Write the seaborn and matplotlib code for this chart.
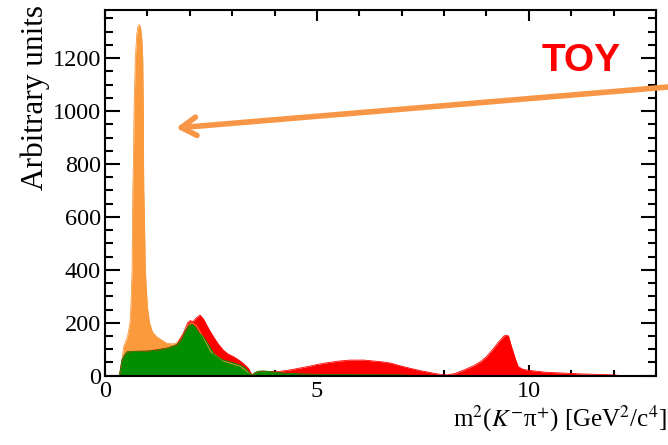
import numpy as np
import pandas as pd
import matplotlib
matplotlib.use("Agg")
import matplotlib.pyplot as plt
import seaborn as sns
from matplotlib.ticker import MultipleLocator

# K*(892) dominated component
orange_x = [0.34, 0.40, 0.44, 0.47, 0.53, 0.59, 0.61, 0.64, 0.65, 0.655, 0.67, 0.685, 0.715,
            0.75, 0.78, 0.81, 0.84, 0.87, 0.89, 0.905, 0.91, 0.915, 0.93, 0.95, 1.00, 1.05,
            1.12, 1.22, 1.46, 1.60, 1.70, 1.85, 1.95, 2.05, 2.15, 2.30, 2.50, 2.80, 3.20,
            3.40, 3.50]
orange_y = [0, 60, 110, 122, 147, 200, 260, 400, 600, 700, 800, 1000, 1198,
            1290, 1320, 1327, 1315, 1270, 1198, 1000, 800, 700, 600, 400, 260, 200,
            165, 147, 122, 120, 125, 160, 190, 200, 190, 150, 90, 55, 35,
            10, 0]

# Full toy model
red_x = [0.34, 0.40, 0.46, 0.52, 0.70, 1.00, 1.50, 1.70, 1.85, 1.95, 2.01, 2.08, 2.15, 2.24,
         2.32, 2.40, 2.48, 2.56, 2.67, 2.79, 2.90, 3.03, 3.15, 3.22, 3.32, 3.39, 3.45, 3.48,
         3.55, 3.70, 3.90, 4.10, 4.37, 4.70, 5.16, 5.50, 5.79, 6.10, 6.50, 6.73, 6.97,
         7.20, 7.44, 7.70, 7.91, 8.07, 8.25, 8.46, 8.70, 8.86, 9.00, 9.17, 9.30, 9.41,
         9.47, 9.52, 9.58, 9.64, 9.70, 9.75, 9.85, 9.96, 10.4, 11.2, 12.0, 12.2]
red_y = [0, 59, 78, 90, 92, 93, 105, 118, 160, 200, 208, 205, 218, 229,
         215, 191, 168, 147, 120, 97, 82, 72, 60, 52, 38, 27, 8, 2,
         12, 17, 16, 16, 22, 32, 47, 55, 59, 59, 53, 48, 37,
         28, 19, 11, 5, 3, 8, 21, 38, 53, 72, 104, 130, 150,
         153, 150, 115, 85, 55, 34, 25, 21, 13, 7, 3, 0]

# Remaining resonant component
green_x = [0.34, 0.40, 0.46, 0.52, 0.70, 1.00, 1.22, 1.45, 1.69, 1.80, 1.89, 1.97, 2.05,
           2.12, 2.20, 2.32, 2.45, 2.56, 2.67, 2.79, 3.00, 3.19, 3.30, 3.35, 3.42, 3.47,
           3.52, 3.60, 3.75, 3.90, 4.20, 4.60, 5.00, 6.00, 7.00, 7.40]
green_y = [0, 59, 78, 90, 92, 93, 97, 103, 116, 135, 166, 188, 195,
           185, 165, 147, 115, 85, 70, 59, 50, 40, 30, 21, 8, 2,
           10, 17, 18, 15, 10, 7, 5, 4, 3, 0]

ytick_labels = ["0", "200", "400", "600", "800", "1000", "1200"]
xtick_labels = ["0", "5", "10"]

sns.set_theme(style="ticks")
plt.rcParams["font.family"] = ["Liberation Serif", "DejaVu Serif"]
plt.rcParams["mathtext.fontset"] = "stix"

fig = plt.figure(figsize=(6.68, 4.45), dpi=100)
ax = fig.add_axes([105 / 668, 1 - 375.7 / 445, 551 / 668, 365.7 / 445])

layers = [
    (orange_x, orange_y, "#FA9A3C"),
    (red_x, red_y, "#FF0000"),
    (green_x, green_y, "#008E00"),
]
for xs, ys, col in layers:
    df = pd.DataFrame({"x": xs, "y": ys})
    sns.lineplot(data=df, x="x", y="y", ax=ax, color=col, lw=0.6, sort=False)
    ax.fill_between(df["x"], 0, df["y"], color=col, lw=0)

ax.set_xlim(0, 13)
ax.set_ylim(0, 1382)
ax.set_xticks([0, 5, 10])
ax.set_xticklabels(xtick_labels)
ax.set_yticks([0, 200, 400, 600, 800, 1000, 1200])
ax.set_yticklabels(ytick_labels)
ax.xaxis.set_minor_locator(MultipleLocator(1))
ax.yaxis.set_minor_locator(MultipleLocator(50))

for s in ax.spines.values():
    s.set_linewidth(1.5)
    s.set_color("black")
ax.tick_params(axis="both", which="both", direction="in", top=True, right=True,
               width=1.5, color="black", labelsize=17.5, labelcolor="black")
ax.tick_params(axis="x", which="major", length=8, pad=4)
ax.tick_params(axis="x", which="minor", length=4.5)
ax.tick_params(axis="y", which="major", length=11, pad=3)
ax.tick_params(axis="y", which="minor", length=6)

ax.set_xlabel(r"m$^2$($K^{-}$π$^{+}$) [GeV$^2$/c$^4$]", fontsize=18, loc="right", color="black")
ax.xaxis.set_label_coords(1.02, -0.119)
ax.xaxis.label.set_va("center")
ax.set_ylabel("Arbitrary units", fontsize=22.5, loc="top", color="black")
ax.yaxis.set_label_coords(-0.127, 1.014)
ax.yaxis.label.set_va("center")

fig.text(581 / 668, 1 - 61 / 445, "TOY", color="#FF0000", fontsize=28, fontweight="bold",
         family="Liberation Sans", ha="center", va="center")
ax.annotate("", xy=(176 / 668, 1 - 128 / 445), xycoords="figure fraction",
            xytext=(1.0, 1 - 87 / 445), textcoords="figure fraction",
            arrowprops=dict(arrowstyle="->,head_length=0.9,head_width=0.55",
                            color="#F79646", lw=4, capstyle="round",
                            joinstyle="round", shrinkA=0, shrinkB=0),
            annotation_clip=False)

fig.savefig("out.png", dpi=100)
